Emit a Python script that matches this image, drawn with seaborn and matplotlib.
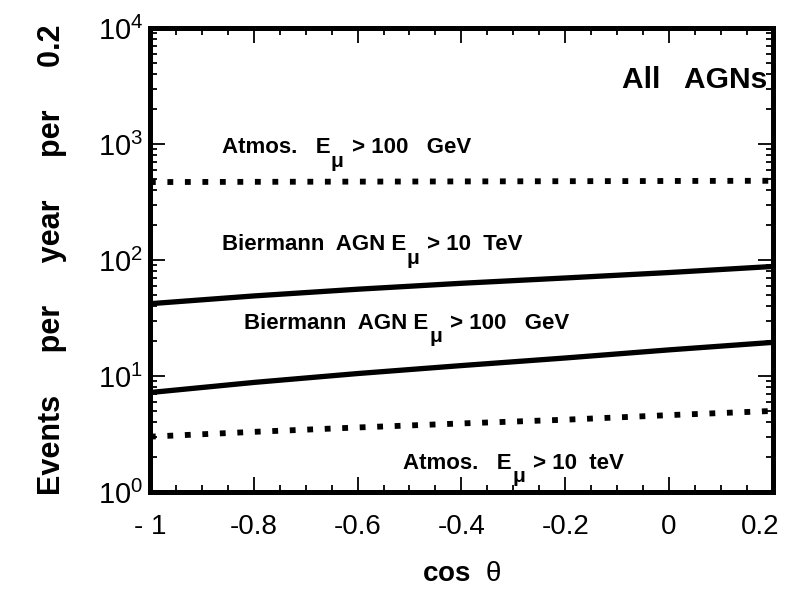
import numpy as np
import pandas as pd
import matplotlib
matplotlib.use("Agg")
import matplotlib.pyplot as plt
import seaborn as sns
from matplotlib.ticker import LogLocator, MultipleLocator, FixedLocator, NullFormatter
from matplotlib.transforms import ScaledTranslation

sns.set_style("ticks")
plt.rcParams["font.family"] = ["Liberation Sans", "DejaVu Sans"]
plt.rcParams["mathtext.fontset"] = "custom"
plt.rcParams["mathtext.rm"] = "Liberation Sans"
plt.rcParams["mathtext.it"] = "Liberation Sans"
plt.rcParams["mathtext.bf"] = "Liberation Sans:bold"
plt.rcParams["text.color"] = "black"
plt.rcParams["axes.labelcolor"] = "black"

# cos(theta) grid and event rates per year per 0.2 bin
cos_theta = [-1.0, -0.8, -0.6, -0.4, -0.2, 0.0, 0.2]
atmos_100gev = [470, 472, 474, 476, 478, 480, 482]
biermann_10tev = [42, 49, 56, 63, 70, 78, 88]
biermann_100gev = [7.2, 8.8, 10.5, 12.3, 14.3, 16.8, 19.5]
atmos_10tev = [3.0, 3.3, 3.6, 3.9, 4.2, 4.6, 5.0]

x_ticks = [-1.0, -0.8, -0.6, -0.4, -0.2, 0.0, 0.2]
x_ticklabels = ["- 1", "-0.8", "-0.6", "-0.4", "-0.2", "0", "0.2"]
y_ticks = [1, 10, 100, 1000, 10000]
y_ticklabels = [r"$10^{0}$", r"$10^{1}$", r"$10^{2}$", r"$10^{3}$", r"$10^{4}$"]

fig = plt.figure(figsize=(7.89, 5.90), dpi=100)
ax = fig.add_axes([0.190, 0.1661, 0.7896, 0.7864])

series = [
    (atmos_100gev, "dotted"),
    (biermann_10tev, "solid"),
    (biermann_100gev, "solid"),
    (atmos_10tev, "dotted"),
]
for vals, style in series:
    df = pd.DataFrame({"cos": cos_theta, "rate": vals})
    if style == "solid":
        sns.lineplot(data=df, x="cos", y="rate", ax=ax, color="black",
                     linewidth=3.8, solid_capstyle="butt")
    else:
        sns.lineplot(data=df, x="cos", y="rate", ax=ax, color="black",
                     linewidth=4.2, linestyle=(0, (1.0, 2.0)),
                     dash_capstyle="butt")

ax.set_yscale("log")
ax.set_xlim(-1.0, 0.2)
ax.set_ylim(1, 1e4)

ax.xaxis.set_major_locator(FixedLocator(x_ticks))
ax.xaxis.set_minor_locator(MultipleLocator(0.05))
ax.set_xticks(x_ticks)
ax.set_xticklabels(x_ticklabels)
ax.yaxis.set_major_locator(FixedLocator(y_ticks))
ax.yaxis.set_minor_locator(LogLocator(base=10, subs=np.arange(2, 10)))
ax.yaxis.set_minor_formatter(NullFormatter())
ax.set_yticks(y_ticks)
ax.set_yticklabels(y_ticklabels)

ax.tick_params(which="both", direction="in", top=True, right=True,
               color="black", width=1.3, labelcolor="black")
ax.tick_params(which="major", length=11, labelsize=20)
ax.tick_params(axis="x", which="major", pad=16)
ax.tick_params(axis="y", which="major", pad=5, labelsize=21)
ax.tick_params(which="minor", length=5)

# nudge the last x tick label inward so it stays on the canvas
last = ax.get_xticklabels()[-1]
last.set_transform(last.get_transform()
                   + ScaledTranslation(-0.13, 0, fig.dpi_scale_trans))

for sp in ax.spines.values():
    sp.set_linewidth(3.6)
    sp.set_color("black")

ax.set_xlabel(r"cos  $\theta$", fontsize=20, fontweight="bold")
ax.xaxis.set_label_coords(0.5, -0.148)
ax.set_ylabel("Events     per     year     per     0.2", fontsize=22,
              fontweight="bold")
ax.yaxis.set_label_coords(-0.133, 0.5)

ax.text(0.19, 3550, "All   AGNs", ha="right", va="center", fontsize=21.5,
        fontweight="bold")


def energy_label(x, y, pre, post, size=16):
    """Bold label with a lowered muon subscript after the 'E'."""
    t1 = ax.text(x, y, pre, ha="left", va="baseline", fontsize=size,
                 fontweight="bold")
    mu = ax.annotate("μ", xy=(1, 0), xycoords=t1, xytext=(0.5, -9),
                     textcoords="offset points", ha="left", va="bottom",
                     fontsize=size - 1, fontweight="bold")
    ax.annotate(post, xy=(1, 0), xycoords=(mu, t1), xytext=(1.5, 0),
                textcoords="offset points", ha="left", va="bottom",
                fontsize=size, fontweight="bold")


energy_label(-0.862, 832, "Atmos.   E", " > 100   GeV")
energy_label(-0.862, 121, "Biermann  AGN E", " > 10  TeV")
energy_label(-0.818, 25.6, "Biermann  AGN E", " > 100   GeV")
energy_label(-0.513, 1.58, "Atmos.   E", " > 10  teV")

fig.savefig("out.png", dpi=100)
